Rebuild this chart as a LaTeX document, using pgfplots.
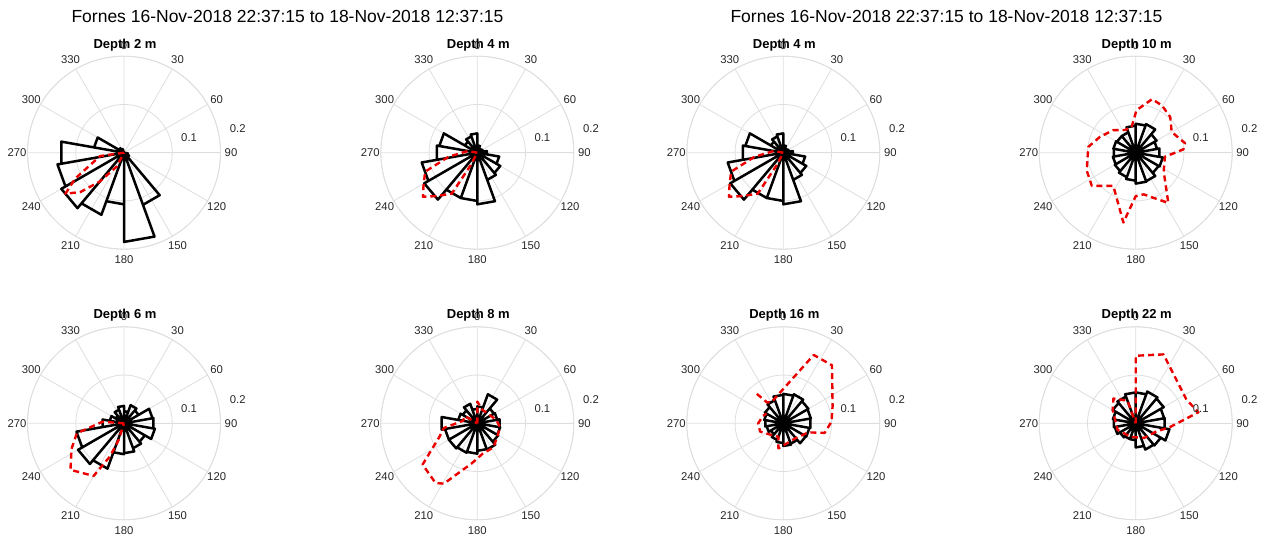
\documentclass[border=0pt]{standalone}
\usepackage{fontspec}
\setmainfont{Liberation Sans}
\usepackage{pgfplots}
\pgfplotsset{compat=1.18}
\usepgfplotslibrary{polar}

\definecolor{rgrid}{RGB}{222,222,222}
\definecolor{rtext}{RGB}{38,38,38}
\definecolor{rred}{RGB}{235,0,0}

% bearings are given clockwise from north; the filter turns them into pgf angles
\pgfplotsset{
  rosepanel/.style={
    scale only axis, width=193pt, height=193pt, anchor=center,
    xmin=0, xmax=360, ymin=0, ymax=0.2,
    xtick={0,30,...,330}, ytick={0.1,0.2},
    xticklabels={}, yticklabels={},
    grid=major,
    major grid style={draw=rgrid, line width=0.8pt},
    axis line style={draw=rgrid, line width=0.8pt},
    major tick length=0pt,
    x filter/.expression={90-x},
    clip=false,
  },
  roseblack/.style={draw=black, line width=2.5pt, line join=round, mark=none},
  rosered/.style={draw=rred, line width=2.4pt, dash pattern=on 6pt off 4pt,
                  line join=round, mark=none},
}
\tikzset{
  lbl/.style={font=\fontsize{11.3}{13}\selectfont, text=rtext, inner sep=0pt},
  ttl/.style={font=\fontsize{13}{15}\selectfont\bfseries, inner sep=0pt},
}
% angle labels, radius labels and title around one rose
\newcommand\panelframe[3]{%
  \begin{scope}[shift={(#1,#2)}]
    \foreach \b in {0,30,...,330} \node[lbl] at ({90-\b}:107pt) {\b};
    \node[lbl, anchor=south west] at (10.5:58pt) {0.1};
    \node[lbl, anchor=south west] at (10.5:107.5pt) {0.2};
    \node[ttl, anchor=base] at (1pt,104.4pt) {Depth #3 m};
  \end{scope}}

\begin{document}
\begin{tikzpicture}
\path[use as bounding box] (0,0) rectangle (1266pt,538pt);

\node[anchor=base, font=\fontsize{17.5}{19}\selectfont] at (287.5pt,515.3pt)
  {Fornes 16-Nov-2018 22:37:15 to 18-Nov-2018 12:37:15};
\node[anchor=base, font=\fontsize{17.5}{19}\selectfont] at (946.5pt,515.3pt)
  {Fornes 16-Nov-2018 22:37:15 to 18-Nov-2018 12:37:15};

% ---- Depth 2 m
\begin{polaraxis}[rosepanel, at={(124pt,385.3pt)}]
\addplot[roseblack] coordinates {
 (0,0)(100,.008)(120,.008) (0,0)(120,.012)(140,.012) (0,0)(140,.115)(160,.115)
 (0,0)(160,.185)(180,.185) (0,0)(180,.107)(200,.107) (0,0)(200,.137)(220,.137)
 (0,0)(220,.15)(240,.15) (0,0)(240,.14)(260,.14) (0,0)(260,.132)(280,.132)
 (0,0)(280,.063)(300,.063) (0,0)(300,.012)(320,.012) (0,0)(320,.008)(340,.008) (0,0)};
\addplot[rosered] coordinates {
 (0,0)(262,.05)(242,.115)(235,.148)(228,.122)(220,.078)(208,.033)(0,0)};
\end{polaraxis}
\panelframe{124pt}{385.3pt}{2}

% ---- Depth 4 m
\begin{polaraxis}[rosepanel, at={(477.3pt,385.3pt)}]
\addplot[roseblack] coordinates {
 (0,0)(0,.015)(20,.015) (0,0)(20,.01)(40,.01) (0,0)(40,.01)(60,.01)
 (0,0)(60,.012)(80,.012) (0,0)(80,.02)(100,.02) (0,0)(100,.046)(120,.046)
 (0,0)(120,.055)(140,.055) (0,0)(140,.06)(160,.06) (0,0)(160,.107)(180,.107)
 (0,0)(180,.1)(200,.1) (0,0)(200,.1)(220,.1) (0,0)(220,.127)(240,.127)
 (0,0)(240,.117)(260,.117) (0,0)(260,.085)(280,.085) (0,0)(280,.08)(300,.08)
 (0,0)(300,.03)(320,.03) (0,0)(320,.036)(340,.036) (0,0)(340,.04)(360,.04) (0,0)};
\addplot[rosered] coordinates {
 (0,0)(280,.02)(262,.06)(250,.115)(239,.13)(231,.145)(223,.123)(212,.1)(208,.03)(0,0)};
\end{polaraxis}
\panelframe{477.3pt}{385.3pt}{4}

% ---- Depth 4 m (second figure)
\begin{polaraxis}[rosepanel, at={(783.3pt,385.3pt)}]
\addplot[roseblack] coordinates {
 (0,0)(0,.015)(20,.015) (0,0)(20,.01)(40,.01) (0,0)(40,.01)(60,.01)
 (0,0)(60,.012)(80,.012) (0,0)(80,.02)(100,.02) (0,0)(100,.046)(120,.046)
 (0,0)(120,.055)(140,.055) (0,0)(140,.06)(160,.06) (0,0)(160,.107)(180,.107)
 (0,0)(180,.1)(200,.1) (0,0)(200,.1)(220,.1) (0,0)(220,.127)(240,.127)
 (0,0)(240,.117)(260,.117) (0,0)(260,.085)(280,.085) (0,0)(280,.08)(300,.08)
 (0,0)(300,.03)(320,.03) (0,0)(320,.036)(340,.036) (0,0)(340,.04)(360,.04) (0,0)};
\addplot[rosered] coordinates {
 (0,0)(280,.02)(262,.06)(250,.115)(239,.13)(231,.145)(223,.123)(212,.1)(208,.03)(0,0)};
\end{polaraxis}
\panelframe{783.3pt}{385.3pt}{4}

% ---- Depth 10 m
\begin{polaraxis}[rosepanel, at={(1135.7pt,385.3pt)}]
\addplot[roseblack] coordinates {
 (0,0)(0,.06)(20,.06) (0,0)(20,.063)(40,.063) (0,0)(40,.05)(60,.05)
 (0,0)(60,.045)(80,.045) (0,0)(80,.05)(100,.05) (0,0)(100,.057)(120,.057)
 (0,0)(120,.055)(140,.055) (0,0)(140,.063)(160,.063) (0,0)(160,.064)(180,.064)
 (0,0)(180,.058)(200,.058) (0,0)(200,.054)(220,.054) (0,0)(220,.05)(240,.05)
 (0,0)(240,.048)(260,.048) (0,0)(260,.046)(280,.046) (0,0)(280,.047)(300,.047)
 (0,0)(300,.045)(320,.045) (0,0)(320,.045)(340,.045) (0,0)(340,.056)(360,.056) (0,0)};
\addplot[rosered] coordinates {
 (351,.054)(1,.088)(17,.116)(29,.112)(44,.103)(60,.086)(79,.104)(86,.099)
 (98,.061)(124,.07)(147,.124)(157,.103)(169,.088)(180,.09)(190,.147)(214,.083)
 (233,.114)(250,.108)(277,.099)(294,.081)(315,.066)(335,.052)(351,.054)};
\end{polaraxis}
\panelframe{1135.7pt}{385.3pt}{10}

% ---- Depth 6 m
\begin{polaraxis}[rosepanel, at={(124pt,114.7pt)}]
\addplot[roseblack] coordinates {
 (0,0)(0,.025)(20,.025) (0,0)(20,.04)(40,.04) (0,0)(40,.035)(60,.035)
 (0,0)(60,.06)(80,.06) (0,0)(80,.062)(100,.062) (0,0)(100,.065)(120,.065)
 (0,0)(120,.05)(140,.05) (0,0)(140,.055)(160,.055) (0,0)(160,.062)(180,.062)
 (0,0)(180,.064)(200,.064) (0,0)(200,.1)(220,.1) (0,0)(220,.11)(240,.11)
 (0,0)(240,.1)(260,.1) (0,0)(260,.045)(280,.045) (0,0)(280,.03)(300,.03)
 (0,0)(300,.02)(320,.02) (0,0)(320,.03)(340,.03) (0,0)(340,.036)(360,.036) (0,0)};
\addplot[rosered] coordinates {
 (0,0)(274,.045)(258,.1)(244,.121)(229,.147)(210,.126)(203,.075)(198,.037)(0,0)};
\end{polaraxis}
\panelframe{124pt}{114.7pt}{6}

% ---- Depth 8 m
\begin{polaraxis}[rosepanel, at={(477.3pt,114.7pt)}]
\addplot[roseblack] coordinates {
 (0,0)(0,.035)(20,.035) (0,0)(20,.064)(40,.064) (0,0)(40,.04)(60,.04)
 (0,0)(60,.042)(80,.042) (0,0)(80,.047)(100,.047) (0,0)(100,.048)(120,.048)
 (0,0)(120,.05)(140,.05) (0,0)(140,.058)(160,.058) (0,0)(160,.057)(180,.057)
 (0,0)(180,.063)(200,.063) (0,0)(200,.065)(220,.065) (0,0)(220,.068)(240,.068)
 (0,0)(240,.068)(260,.068) (0,0)(260,.075)(280,.075) (0,0)(280,.04)(300,.04)
 (0,0)(300,.035)(320,.035) (0,0)(320,.043)(340,.043) (0,0)(340,.03)(360,.03) (0,0)};
\addplot[rosered] coordinates {
 (0,0)(0,.045)(20,.03)(80,.04)(100,.048)(125,.05)(146,.06)(170,.064)(188,.084)
 (209,.143)(215,.151)(233,.142)(250,.084)(262,.07)(280,.03)(300,.03)(0,0)};
\end{polaraxis}
\panelframe{477.3pt}{114.7pt}{8}

% ---- Depth 16 m
\begin{polaraxis}[rosepanel, at={(783.3pt,114.7pt)}]
\addplot[roseblack] coordinates {
 (0,0)(0,.061)(20,.061) (0,0)(20,.064)(40,.064) (0,0)(40,.06)(60,.06)
 (0,0)(60,.058)(80,.058) (0,0)(80,.057)(100,.057) (0,0)(100,.055)(120,.055)
 (0,0)(120,.054)(140,.054) (0,0)(140,.045)(160,.045) (0,0)(160,.047)(180,.047)
 (0,0)(180,.041)(200,.041) (0,0)(200,.037)(220,.037) (0,0)(220,.03)(240,.03)
 (0,0)(240,.035)(260,.035) (0,0)(260,.038)(280,.038) (0,0)(280,.04)(300,.04)
 (0,0)(300,.044)(320,.044) (0,0)(320,.051)(340,.051) (0,0)(340,.059)(360,.059) (0,0)};
\addplot[rosered] coordinates {
 (318,.082)(322,.055)(330,.05)(24,.155)(40,.157)(71,.108)(88,.1)(103,.088)
 (110,.055)(140,.04)(191,.053)(200,.03)(250,.051)(270,.052)(290,.045)(300,.04)};
\end{polaraxis}
\panelframe{783.3pt}{114.7pt}{16}

% ---- Depth 22 m
\begin{polaraxis}[rosepanel, at={(1135.7pt,114.7pt)}]
\addplot[roseblack] coordinates {
 (0,0)(0,.064)(20,.064) (0,0)(20,.07)(40,.07) (0,0)(40,.067)(60,.067)
 (0,0)(60,.06)(80,.06) (0,0)(80,.061)(100,.061) (0,0)(100,.071)(120,.071)
 (0,0)(120,.06)(140,.06) (0,0)(140,.058)(160,.058) (0,0)(160,.05)(180,.05)
 (0,0)(180,.035)(200,.035) (0,0)(200,.035)(220,.035) (0,0)(220,.038)(240,.038)
 (0,0)(240,.044)(260,.044) (0,0)(260,.046)(280,.046) (0,0)(280,.048)(300,.048)
 (0,0)(300,.055)(320,.055) (0,0)(320,.059)(340,.059) (0,0)(340,.064)(360,.064) (0,0)};
\addplot[rosered] coordinates {
 (0,0)(0,.14)(22,.154)(65,.116)(80,.132)(96,.072)(113,.045)(150,.035)(200,.03)
 (250,.04)(300,.055)(318,.069)(340,.05)(0,0)};
\end{polaraxis}
\panelframe{1135.7pt}{114.7pt}{22}

\end{tikzpicture}
\end{document}
